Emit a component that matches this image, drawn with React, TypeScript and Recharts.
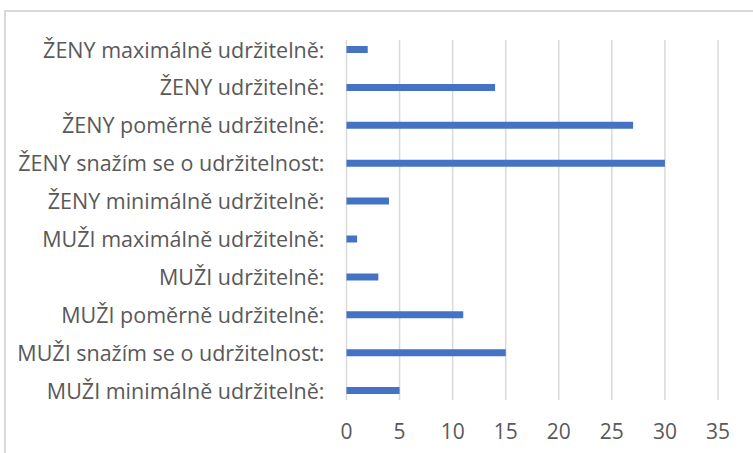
import React from 'react';
import { BarChart, Bar, XAxis, YAxis, CartesianGrid } from 'recharts';

const categories = [
  'ŽENY maximálně udržitelně:',
  'ŽENY udržitelně:',
  'ŽENY poměrně udržitelně:',
  'ŽENY snažím se o udržitelnost:',
  'ŽENY minimálně udržitelně:',
  'MUŽI maximálně udržitelně:',
  'MUŽI udržitelně:',
  'MUŽI poměrně udržitelně:',
  'MUŽI snažím se o udržitelnost:',
  'MUŽI minimálně udržitelně:',
];
const values = [2, 14, 27, 30, 4, 1, 3, 11, 15, 5];
const xTicks = [0, 5, 10, 15, 20, 25, 30, 35];

const data = categories.map((name, i) => ({ name, value: values[i] }));

const FONT = '"Open Sans", Lato, sans-serif';

const gridLine = (props: any) => (
  <line
    key={`g-${props.index}-${props.x1}`}
    x1={props.x1}
    x2={props.x2}
    y1={props.y1 + 9}
    y2={props.y2 - 10}
    stroke="#d9d9d9"
    strokeWidth={1.5}
  />
);

export default function App() {
  return (
    <div style={{ position: 'absolute', left: 0, top: 0, width: 753, height: 453, overflow: 'hidden', background: '#fff' }}>
      <div
        style={{
          position: 'absolute',
          left: 4,
          top: 10,
          width: 800,
          height: 500,
          borderLeft: '2px solid #d9d9d9',
          borderTop: '2px solid #d9d9d9',
        }}
      />
      <div style={{ position: 'absolute', left: 0, top: 0 }}>
        <BarChart
          width={753}
          height={453}
          data={data}
          layout="vertical"
          margin={{ top: 31, right: 35, bottom: 0, left: 0 }}
          barSize={7}
        >
          <CartesianGrid horizontal={false} vertical={gridLine} />
          <XAxis
            type="number"
            domain={[0, 35]}
            ticks={xTicks}
            axisLine={false}
            tickLine={false}
            tickSize={0}
            tickMargin={14}
            height={43}
            tick={{ fill: '#595959', fontSize: 21, fontFamily: FONT }}
          />
          <YAxis
            type="category"
            dataKey="name"
            width={346.5}
            axisLine={false}
            tickLine={false}
            tickSize={0}
            tickMargin={22}
            interval={0}
            tick={{ fill: '#595959', fontSize: 21.5, fontFamily: FONT }}
          />
          <Bar dataKey="value" fill="#4472C4" isAnimationActive={false} />
        </BarChart>
      </div>
    </div>
  );
}
